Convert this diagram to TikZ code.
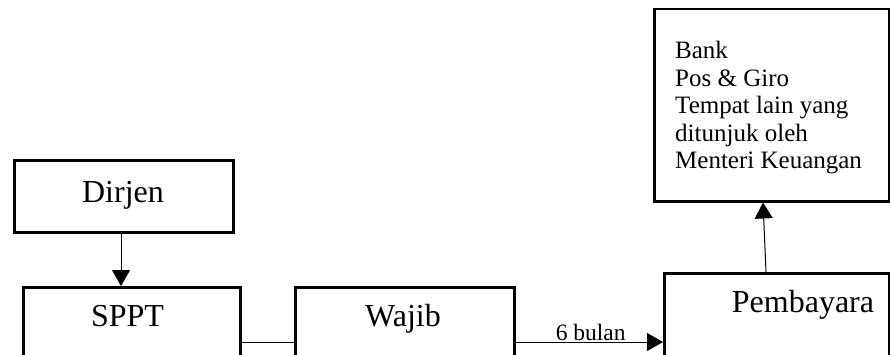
\documentclass[tikz,border=0pt]{standalone}
\usepackage{fontspec}
\setmainfont{Liberation Serif}
\usetikzlibrary{arrows.meta,calc}
\begin{document}
\begin{tikzpicture}[x=1pt,y=1pt,
  box/.style={draw,line width=2.5pt,rectangle,inner sep=0pt,anchor=north west},
  big/.style={font=\fontsize{32}{38}\selectfont,inner sep=0pt,anchor=base},
  conn/.style={line width=1pt},
  arr/.style={conn,-{Triangle[length=16pt,width=18pt]}}]
\clip (0,0) rectangle (890,354);
\fill[white] (0,0) rectangle (890,354);
% boxes
\node[box,minimum width=219pt,minimum height=72pt] (dirjen) at (13,195) {};
\node[box,minimum width=217pt,minimum height=100pt] (sppt) at (22,68) {};
\node[box,minimum width=219pt,minimum height=100pt] (wajib) at (294,68) {};
\node[box,minimum width=225pt,minimum height=120pt] (pemb) at (663,82) {};
\node[box,minimum width=235pt,minimum height=192pt] (bank) at (653,346) {};
% texts
\node[big] (tdirjen) at ($(dirjen.north west)+(110,-43)$) {Dirjen};
\node[big] (tsppt) at ($(sppt.north west)+(105.5,-40)$) {SPPT};
\node[big] (twajib) at ($(wajib.north west)+(109,-40)$) {Wajib};
\node[big] (tpemb) at ($(pemb.north west)+(140,-40)$) {Pembayara};
\node[anchor=north west,inner sep=0pt,align=left,font=\fontsize{25}{27.5}\selectfont] (tbank) at ($(bank.north west)+(22,-33)$) {Bank\\Pos \& Giro\\Tempat lain yang\\ditunjuk oleh\\Menteri Keuangan};
% connectors
\coordinate (d1) at ($(dirjen.south west)+(108,0)$);
\coordinate (s1) at ($(sppt.north west)+(99,0)$);
\draw[arr] (d1) -- (s1);
\coordinate (sr) at ($(sppt.north east)+(0,-56)$);
\coordinate (wl) at ($(wajib.north west)+(0,-56)$);
\draw[conn] (sr) -- (wl);
\coordinate (wr) at ($(wajib.north east)+(0,-56)$);
\coordinate (pl) at ($(pemb.north west)+(0,-70)$);
\draw[arr] (wr) -- node[pos=0.51,fill=white,inner xsep=5pt,inner ysep=1pt,anchor=base,yshift=2pt,font=\fontsize{23.5}{27}\selectfont] (lbl) {6 bulan} (pl);
\coordinate (p1) at ($(pemb.north west)+(103,0)$);
\coordinate (b1) at ($(bank.south west)+(110,0)$);
\draw[arr] (p1) -- (b1);
\end{tikzpicture}
\end{document}
